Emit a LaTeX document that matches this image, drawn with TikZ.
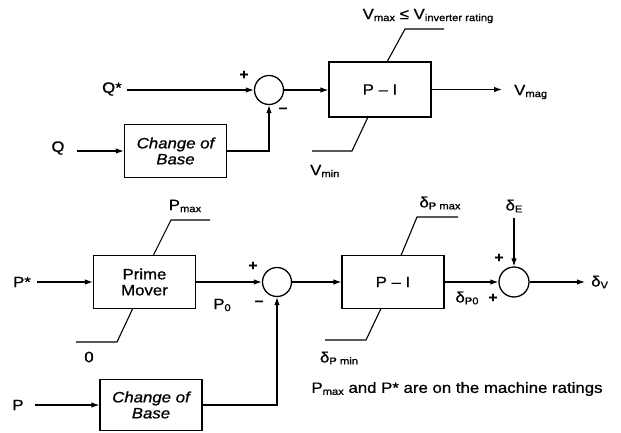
\documentclass[tikz,border=0pt]{standalone}
\usepackage{fontspec}
\setmainfont{Liberation Sans}[FakeStretch=1.12,FakeBold=0.8]
\usetikzlibrary{arrows.meta}
\newcommand\lsb[1]{\raisebox{-0.25ex}{\fontsize{10}{10}\selectfont #1}}
\begin{document}
\begin{tikzpicture}[x=1pt,y=1pt,
  blk/.style={draw,line width=1.3pt,minimum width=102pt,minimum height=53pt,inner sep=0pt,align=center,font=\fontsize{15}{16}\selectfont},
  sumc/.style={draw,line width=1.3pt,circle,minimum size=29pt,inner sep=0pt},
  lbl/.style={inner sep=0pt,font=\fontsize{15}{16}\selectfont},
  sgn/.style={inner sep=0pt,font=\fontsize{14}{14}\selectfont\bfseries},
  wire/.style={line width=1.1pt},
  arr/.style={line width=1.1pt,-{Latex[length=8pt,width=5.5pt]}}]
\useasboundingbox (0,0) rectangle (621,432);
% ---------- top ----------
\node[sumc] (s1) at (269,342) {};
\node[blk,font=\fontsize{15}{16}\selectfont\itshape] (cb1) at (175.5,281) {Change of\\Base};
\node[blk,minimum height=55pt] (pi1) at (380,342.5) {P -- I};
\node[lbl,anchor=east] (qs) at (122,343) {Q*};
\node[lbl] (q) at (58,284) {Q};
\coordinate (qse) at (127,342);
\coordinate (qe) at (77,281);
\draw[arr] (qse) -- (s1.west);
\draw[arr] (qe) -- (cb1.west);
\draw[arr] (cb1.east) -| (s1.south);
\draw[arr] (s1.east) -- (pi1.west |- s1.east);
\node[sgn] (p1) at (244,357) {+};
\node[sgn] (m1) at (283,322) {–};
\coordinate (vm) at (502,342.5);
\draw[arr] (pi1.east) -- (vm);
\node[lbl,anchor=west] (vmag) at (514,340) {V\lsb{mag}};
\coordinate (u1a) at (387,370);
\coordinate (u1b) at (405,403);
\coordinate (u1c) at (444,403);
\draw[wire] (u1a) -- (u1b) -- (u1c);
\node[lbl] (vmax) at (428,416) {V\lsb{max} ≤ V\lsb{inverter rating}};
\coordinate (l1a) at (368,315);
\coordinate (l1b) at (352,281);
\coordinate (l1c) at (312,281);
\draw[wire] (l1a) -- (l1b) -- (l1c);
\node[lbl,anchor=west] (vmin) at (310,261) {V\lsb{min}};
% ---------- bottom ----------
\node[blk] (pm) at (144.5,150) {Prime\\Mover};
\node[sumc] (s2) at (277,150) {};
\node[blk,font=\fontsize{15}{16}\selectfont\itshape,minimum height=51pt] (cb2) at (151,27) {Change of\\Base};
\node[blk] (pi2) at (393,150) {P -- I};
\node[sumc,minimum size=30pt] (s3) at (514,150) {};
\node[lbl] (ps) at (22,150) {P*};
\node[lbl] (p) at (18,27) {P};
\coordinate (pse) at (37,150);
\coordinate (pe) at (35,27);
\draw[arr] (pse) -- (pm.west);
\draw[arr] (pe) -- (cb2.west);
\draw[arr] (pm.east) -- (s2.west);
\draw[arr] (cb2.east) -| (s2.south);
\draw[arr] (s2.east) -- (pi2.west);
\draw[arr] (pi2.east) -- (s3.west);
\coordinate (dv) at (585,150);
\draw[arr] (s3.east) -- (dv);
\node[lbl,anchor=west] (dvl) at (591,150) {δ\lsb{V}};
\node[lbl] (de) at (514,226) {δ\lsb{E}};
\coordinate (det) at (514,214);
\draw[arr] (det) -- (s3.north);
\node[sgn] (p2) at (253,166) {+};
\node[sgn] (m2) at (259,129) {–};
\node[lbl] (p0) at (222,127) {P\lsb{0}};
\node[sgn] (p3) at (499,174) {+};
\node[sgn] (p4) at (493,134) {+};
\node[lbl] (dp0) at (467,134) {δ\lsb{P0}};
% limiters
\coordinate (u2a) at (153,176);
\coordinate (u2b) at (171,212);
\coordinate (u2c) at (210,212);
\draw[wire] (u2a) -- (u2b) -- (u2c);
\node[lbl] (pmax) at (185,226) {P\lsb{max}};
\coordinate (l2a) at (133,124);
\coordinate (l2b) at (117,90);
\coordinate (l2c) at (76,90);
\draw[wire] (l2a) -- (l2b) -- (l2c);
\node[lbl] (zero) at (89,75) {0};
\coordinate (u3a) at (401,176.5);
\coordinate (u3b) at (417,215);
\coordinate (u3c) at (458,215);
\draw[wire] (u3a) -- (u3b) -- (u3c);
\node[lbl] (dpmax) at (440,229) {δ\lsb{P max}};
\coordinate (l3a) at (381,123.5);
\coordinate (l3b) at (366,92);
\coordinate (l3c) at (325,92);
\draw[wire] (l3a) -- (l3b) -- (l3c);
\node[lbl] (dpmin) at (339,74) {δ\lsb{P min}};
\node[lbl] (note) at (457,43) {P\lsb{max} and P* are on the machine ratings};
\end{tikzpicture}
\end{document}
